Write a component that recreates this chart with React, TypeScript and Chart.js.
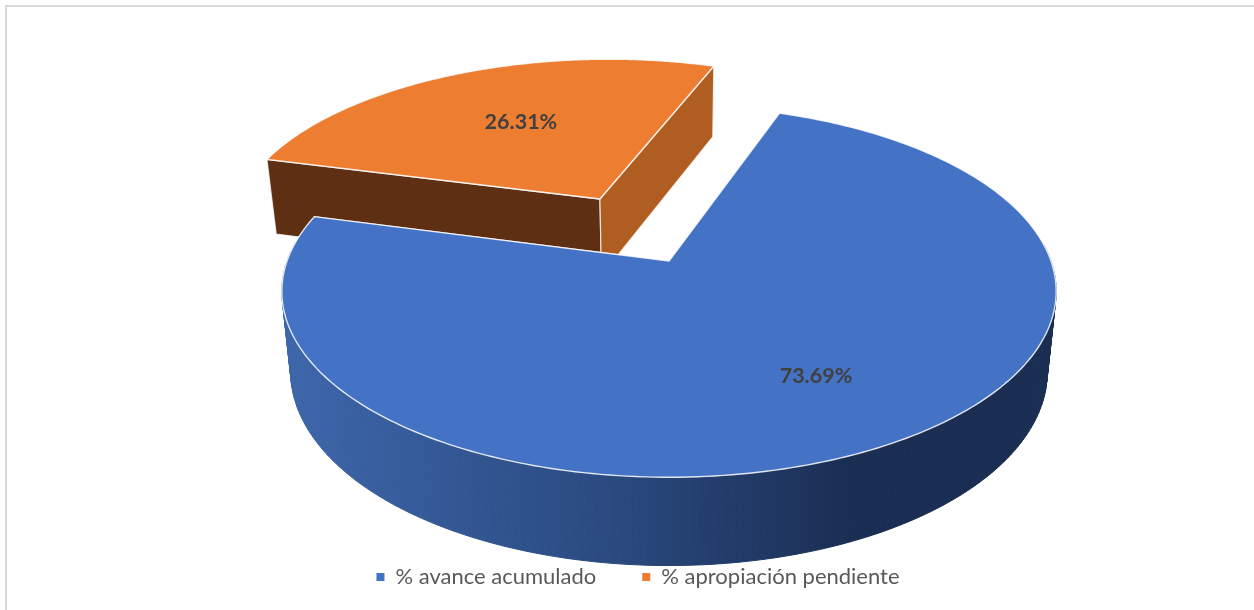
import React, { useEffect, useRef } from "react";
import { Chart, registerables } from "chart.js";

Chart.register(...registerables);

const categories = ["% avance acumulado", "% apropiación pendiente"];
const seriesValues = [73.69, 26.31];
const explode = [0, 0.41];
const labelRadius = [0.672, 0.57];
const labelAngleShift = [-3.4, 1.7];
const topColors = ["#4472c4", "#ed7d31"];
const startCutColors = ["#1a2d52", "#5e2f12"];
const endCutColors = ["#1a2d52", "#b05d22"];
const rimStops: [number, string][][] = [
  [[0, "#3d66aa"], [0.42, "#2a4a80"], [0.75, "#1a2d52"], [1, "#1a2d52"]],
  [[0, "#5e2f12"], [1, "#b05d22"]],
];

// Camera for the tilted pie: a perspective projection of the unit disc.
const view = { cx: 669, cy: 261, rx: 382, ry: 181, k: 0.163, baseScaleX: 0.977, drop: 79, dropSlope: 0.043 };

type P = [number, number];
function topPoint(u: number, v: number): P {
  const w = 1 - view.k * v;
  return [view.cx + (view.rx * u) / w, view.cy + (view.ry * v) / w];
}
function basePoint(u: number, v: number): P {
  const [x, y] = topPoint(u, v);
  return [view.cx + view.baseScaleX * (x - view.cx), y + view.drop + view.dropSlope * (y - view.cy)];
}
function poly(ctx: CanvasRenderingContext2D, pts: P[]) {
  ctx.beginPath();
  pts.forEach((p, i) => (i ? ctx.lineTo(p[0], p[1]) : ctx.moveTo(p[0], p[1])));
  ctx.closePath();
}

const pie3d = {
  id: "pie3d",
  beforeDatasetsDraw(chart: any) {
    const ctx: CanvasRenderingContext2D = chart.ctx;
    const arcs = chart.getDatasetMeta(0).data;
    // Far slice first so that the near one can overlap it.
    const order = arcs.map((_: any, i: number) => i).sort((a: number, b: number) => explode[b] - explode[a]);
    ctx.save();
    for (const i of order) {
      const { startAngle, endAngle } = arcs[i];
      const mid = (startAngle + endAngle) / 2;
      const ou = Math.cos(mid) * explode[i];
      const ov = Math.sin(mid) * explode[i];
      const steps = 240;
      const rim: [number, number][] = [];
      const rimAngles: number[] = [];
      for (let s = 0; s <= steps; s++) {
        const a = startAngle + ((endAngle - startAngle) * s) / steps;
        rimAngles.push(a);
        rim.push([ou + Math.cos(a), ov + Math.sin(a)]);
      }
      // outer wall: only the part that faces the viewer
      const grad = ctx.createLinearGradient(view.cx - 380, 0, view.cx + 380, 0);
      rimStops[i].forEach(([o, c]) => grad.addColorStop(o, c));
      ctx.fillStyle = grad;
      ctx.strokeStyle = grad;
      ctx.lineWidth = 1;
      for (let s = 0; s < steps; s++) {
        if (Math.sin(rimAngles[s]) < -0.1) continue;
        const [a, b] = [rim[s], rim[s + 1]];
        poly(ctx, [topPoint(a[0], a[1]), topPoint(b[0], b[1]), basePoint(b[0], b[1]), basePoint(a[0], a[1])]);
        ctx.fill();
        ctx.stroke();
      }
      // cut walls
      const first = rim[0];
      const last = rim[steps];
      const cuts: [[number, number], string][] = [
        [first, startCutColors[i]],
        [last, endCutColors[i]],
      ];
      for (const [e, color] of cuts) {
        poly(ctx, [topPoint(ou, ov), topPoint(e[0], e[1]), basePoint(e[0], e[1]), basePoint(ou, ov)]);
        ctx.fillStyle = color;
        ctx.fill();
        ctx.strokeStyle = "rgba(255,255,255,0.75)";
        ctx.lineWidth = 1.2;
        ctx.stroke();
      }
      // top face
      const face: P[] = [topPoint(ou, ov), ...rim.map((p) => topPoint(p[0], p[1]))];
      poly(ctx, face);
      ctx.fillStyle = topColors[i];
      ctx.fill();
      ctx.strokeStyle = "rgba(255,255,255,0.85)";
      ctx.lineWidth = 1.4;
      ctx.stroke();
    }
    // value labels
    ctx.font = "bold 21.5px Lato";
    ctx.fillStyle = "#404040";
    ctx.textAlign = "center";
    ctx.textBaseline = "middle";
    arcs.forEach((arc: any, i: number) => {
      const mid = (arc.startAngle + arc.endAngle) / 2;
      const la = mid + (labelAngleShift[i] * Math.PI) / 180;
      const u = Math.cos(mid) * explode[i] + Math.cos(la) * labelRadius[i];
      const v = Math.sin(mid) * explode[i] + Math.sin(la) * labelRadius[i];
      const [x, y] = topPoint(u, v);
      ctx.fillText(seriesValues[i].toFixed(2) + "%", x, y);
    });
    ctx.restore();
    return false;
  },
};

export default function App() {
  const ref = useRef<HTMLCanvasElement>(null);
  useEffect(() => {
    const chart = new Chart(ref.current!, {
      type: "pie",
      data: {
        labels: categories,
        datasets: [{ data: seriesValues, backgroundColor: topColors, borderWidth: 0 }],
      },
      options: {
        animation: false,
        responsive: false,
        rotation: 19.5,
        layout: { padding: { left: 22, bottom: 12 } },
        plugins: {
          tooltip: { enabled: false },
          legend: {
            position: "bottom",
            labels: {
              color: "#595959",
              font: { family: "Lato", size: 22 },
              boxWidth: 8,
              boxHeight: 8,
              padding: 46,
            },
          },
        },
      },
      plugins: [pie3d],
    } as any);
    return () => chart.destroy();
  }, []);
  return (
    <div style={{ position: "fixed", left: 0, top: 0, width: 1254, height: 610, background: "#fff" }}>
      <canvas ref={ref} width={1254} height={610} style={{ display: "block" }} />
      <div
        style={{
          position: "absolute",
          left: 5,
          top: 5,
          right: 0,
          bottom: 0,
          borderTop: "2px solid #d9d9d9",
          borderLeft: "2px solid #d9d9d9",
        }}
      />
    </div>
  );
}
